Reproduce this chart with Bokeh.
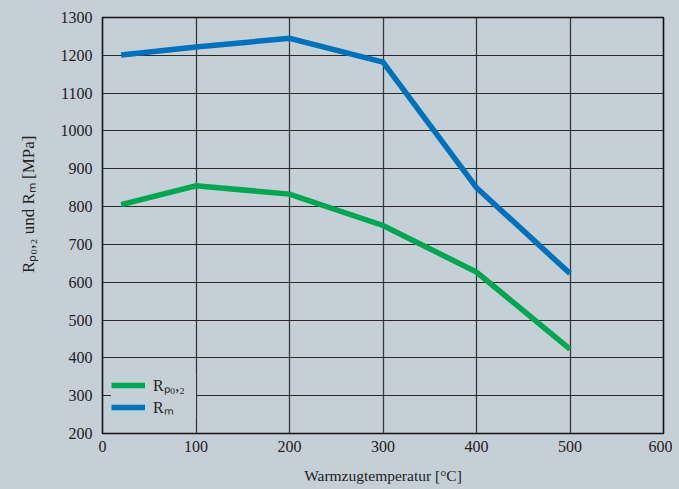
from bokeh.plotting import figure
from bokeh.models import Range1d, FixedTicker, Legend, LegendItem
from bokeh.embed import file_html
from bokeh.resources import INLINE

# ---- data ----
temps = [20, 100, 200, 300, 400, 500]
rp02 = [805, 855, 833, 750, 627, 423]
rm = [1201, 1222, 1245, 1182, 850, 623]
x_ticks = [0, 100, 200, 300, 400, 500, 600]
y_ticks = [200, 300, 400, 500, 600, 700, 800, 900, 1000, 1100, 1200, 1300]
series_labels = ["Rₚ₀,₂", "Rₘ"]

BG = "#c5cfd6"
GREEN = "#00a651"
BLUE = "#0072bc"
FONT = "Liberation Serif"
TXT = "#222222"

p = figure(width=672, height=489, output_backend="svg", toolbar_location=None,
           x_range=Range1d(0, 600), y_range=Range1d(200, 1300),
           min_border_left=102, min_border_right=9, min_border_top=17, min_border_bottom=56)
p.background_fill_color = BG
p.border_fill_color = BG
p.outline_line_color = "#111111"
p.outline_line_width = 1.6

p.xaxis.ticker = FixedTicker(ticks=x_ticks)
p.yaxis.ticker = FixedTicker(ticks=y_ticks)
for ax in (p.xaxis[0], p.yaxis[0]):
    ax.axis_line_color = None
    ax.major_tick_line_color = None
    ax.minor_tick_line_color = None
    ax.major_tick_out = 0
    ax.major_tick_in = 0
    ax.major_label_text_font = FONT
    ax.major_label_text_font_size = "16px"
    ax.major_label_text_color = TXT
    ax.axis_label_text_font = FONT
    ax.axis_label_text_font_style = "normal"
    ax.axis_label_text_color = TXT
p.yaxis.major_label_standoff = 10
p.xaxis.major_label_standoff = 7
p.xaxis.axis_label = "Warmzugtemperatur [°C]"
p.xaxis.axis_label_text_font_size = "15.5px"
p.xaxis.axis_label_standoff = 12
# leading en-spaces shift the centred rotated label upward, as in the reference
p.yaxis.axis_label = "\u2002\u2002\u2002\u2002\u2002Rₚ₀,₂ und Rₘ [MPa]"
p.yaxis.axis_label_text_font_size = "17px"
p.yaxis.axis_label_standoff = 20

p.xgrid.grid_line_color = "#3a3a3a"
p.xgrid.grid_line_width = 1.3
p.ygrid.grid_line_color = "#2a2a2a"
p.ygrid.grid_line_width = 1.1

r1 = p.line(temps, rp02, line_color=GREEN, line_width=5.5, line_join="miter")
r2 = p.line(temps, rm, line_color=BLUE, line_width=5.5, line_join="miter")

legend = Legend(items=[LegendItem(label=series_labels[0], renderers=[r1]),
                       LegendItem(label=series_labels[1], renderers=[r2])],
                location=(9, 15), margin=0, padding=0, spacing=0,
                glyph_width=34, glyph_height=20, label_height=20, label_width=43,
                label_standoff=8, border_line_color=None,
                background_fill_color=BG, background_fill_alpha=1.0,
                label_text_font=FONT, label_text_font_size="16px",
                label_text_color=TXT)
p.add_layout(legend, "center")

html = file_html(p, INLINE)
html = html.replace("</head>", "<style>body{background:%s;}</style></head>" % BG, 1)
open("out.html", "w").write(html)
